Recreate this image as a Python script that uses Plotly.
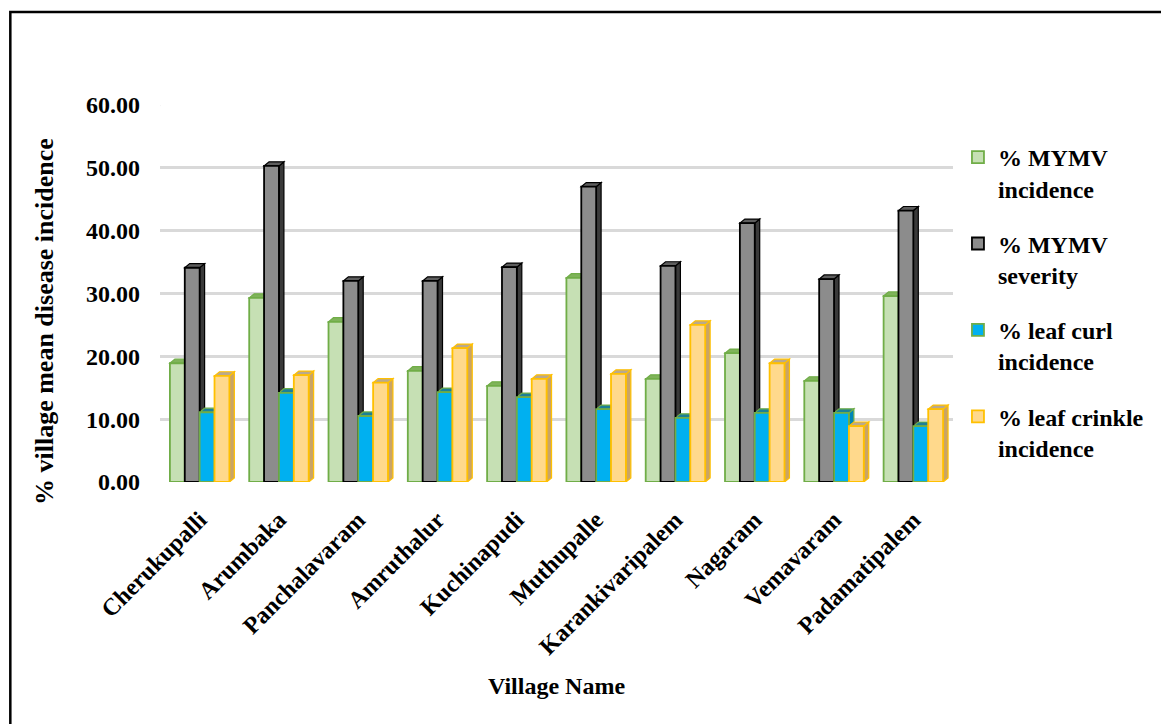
import plotly.graph_objects as go

villages = ["Cherukupalli", "Arumbaka", "Panchalavaram", "Amruthalur", "Kuchinapudi",
            "Muthupalle", "Karankivaripalem", "Nagaram", "Vemavaram", "Padamatipalem"]

mymv_incidence = [18.9, 29.3, 25.5, 17.7, 15.3, 32.5, 16.4, 20.5, 16.1, 29.6]
mymv_severity = [34.1, 50.3, 32.0, 32.0, 34.2, 47.0, 34.4, 41.2, 32.3, 43.2]
leaf_curl_incidence = [11.1, 14.2, 10.5, 14.3, 13.5, 11.6, 10.2, 11.0, 11.0, 8.9]
leaf_crinkle_incidence = [16.9, 17.0, 15.8, 21.3, 16.4, 17.2, 25.0, 18.9, 8.9, 11.6]

y_ticks = [0, 10, 20, 30, 40, 50, 60]

series = [
    # name, values, front fill, outline, top face, side face
    ("% MYMV<br>incidence", mymv_incidence, "#c6e0b4", "#70ad47", "#7fb35a", "#a3cc86"),
    ("% MYMV<br>severity", mymv_severity, "#8c8c8c", "#000000", "#5e5e5e", "#3a3a3a"),
    ("% leaf curl<br>incidence", leaf_curl_incidence, "#00b0f0", "#70ad47", "#1b7f98", "#0086b8"),
    ("% leaf crinkle<br>incidence", leaf_crinkle_incidence, "#ffd98c", "#ffc000", "#b9a98e", "#c9a466"),
]

FONT = "Liberation Serif"
FS = 24
n_series = len(series)
group_width = 0.75
bar_w = group_width / n_series
depth_x = 0.0625   # horizontal extent of the 3-D side face, in category units
depth_y = 0.65     # vertical extent of the 3-D top face, in value units

x_idx = list(range(len(villages)))

fig = go.Figure()
shapes = []

for k, (name, vals, fill, edge, top, side) in enumerate(series):
    fig.add_trace(go.Bar(
        x=x_idx, y=vals, name=name, legendgroup=f"s{k}",
        marker=dict(color=fill, line=dict(color=edge, width=1.8)),
        width=bar_w,
        offset=-group_width / 2 + k * bar_w,
    ))
    for i, v in zip(x_idx, vals):
        x0 = i - group_width / 2 + k * bar_w
        x1 = x0 + bar_w
        # right-hand side face
        shapes.append(dict(
            type="path", xref="x", yref="y", layer="between",
            path=f"M{x1},{0} L{x1 + depth_x},{depth_y} L{x1 + depth_x},{v + depth_y} L{x1},{v} Z",
            fillcolor=side, line=dict(color=edge, width=1.2),
        ))
        # top face
        shapes.append(dict(
            type="path", xref="x", yref="y", layer="between",
            path=f"M{x0},{v} L{x1},{v} L{x1 + depth_x},{v + depth_y} L{x0 + depth_x},{v + depth_y} Z",
            fillcolor=top, line=dict(color=edge, width=1.2),
        ))

# short diagonal stubs where the back-wall gridlines meet the left wall
for t in y_ticks:
    shapes.append(dict(
        type="line", xref="x", yref="y", layer="below",
        x0=-0.5 - 0.12, y0=t - 0.9, x1=-0.5, y1=t,
        line=dict(color="#d9d9d9", width=2),
    ))

# outer frame around the whole chart
L, T, PW, PH, H = 160, 105, 800, 377, 724
def px_x(p):
    return (p - L) / PW
def px_y(p):
    return (H - 242 - p) / PH

shapes.append(dict(
    type="rect", xref="paper", yref="paper", layer="above",
    x0=px_x(9), x1=px_x(1175), y0=px_y(740), y1=px_y(12),
    line=dict(color="#000000", width=2.5), fillcolor="rgba(0,0,0,0)",
))

fig.update_layout(
    width=1161, height=724,
    margin=dict(l=L, r=1161 - L - PW, t=T, b=242),
    paper_bgcolor="white", plot_bgcolor="white",
    barmode="overlay",
    shapes=shapes,
    font=dict(family=FONT, size=FS, color="#000000"),
    showlegend=True,
    legend=dict(
        x=px_x(965), y=px_y(135), xanchor="left", yanchor="top",
        font=dict(family=FONT, size=FS, color="#000000", weight="bold"),
        tracegroupgap=21, itemwidth=30, bgcolor="rgba(0,0,0,0)",
        traceorder="grouped", valign="top",
    ),
    annotations=[dict(
        text="% village mean disease incidence", textangle=-90,
        xref="paper", yref="paper", x=px_x(43), y=px_y(322),
        xanchor="center", yanchor="middle", showarrow=False,
        font=dict(family=FONT, size=FS + 2, weight="bold", color="#000000"),
    )],
    xaxis=dict(
        range=[-0.5, len(villages) - 0.5],
        tickmode="array", tickvals=x_idx, ticktext=villages,
        tickangle=-45, showgrid=False, zeroline=False, showline=False,
        ticks="", ticklabelstandoff=18,
        tickfont=dict(family=FONT, size=FS, weight="bold"),
        title=dict(text="Village Name", standoff=18,
                   font=dict(family=FONT, size=FS, weight="bold")),
    ),
    yaxis=dict(
        range=[0, 60], tickmode="array", tickvals=y_ticks,
        tickformat=".2f", showgrid=True, gridcolor="#d9d9d9", gridwidth=2.5,
        zeroline=False, showline=False, ticks="", ticklabelstandoff=19,
        tickfont=dict(family=FONT, size=FS, weight="bold"),
    ),
)

fig.write_html("out.html")
